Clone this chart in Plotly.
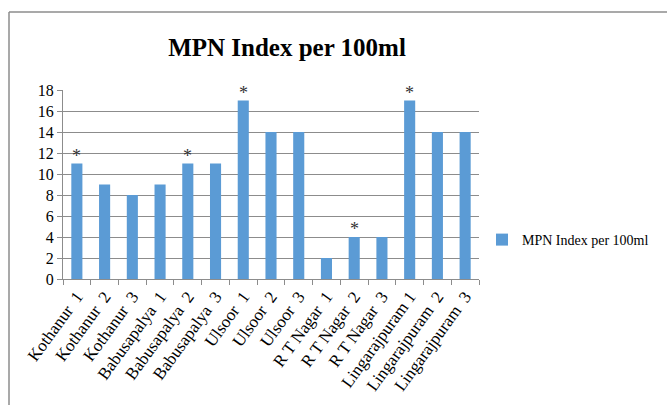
import plotly.graph_objects as go

NB = "\u00a0"

# Sampling sites and their MPN index values
sites = [
    f"Kothanur{NB}{NB}1", f"Kothanur{NB}{NB}2", f"Kothanur{NB}{NB}3",
    f"Babusapalya{NB}{NB}1", f"Babusapalya{NB}{NB}2", f"Babusapalya{NB}{NB}3",
    f"Ulsoor{NB}{NB}1", f"Ulsoor{NB}{NB}2", f"Ulsoor{NB}{NB}3",
    f"R T Nagar{NB}{NB}1", f"R T Nagar{NB}{NB}2", f"R T Nagar{NB}{NB}3",
    "Lingarajpuram 1", f"Lingarajpuram{NB}{NB}2", f"Lingarajpuram{NB}{NB}3",
]
mpn_values = [11, 9, 8, 9, 11, 11, 17, 14, 14, 2, 4, 4, 17, 14, 14]
# Sites flagged with an asterisk
flagged = [True, False, False, False, True, False, True, False, False,
           False, True, False, True, False, False]
series_name = "MPN Index per 100ml"
y_ticks = [0, 2, 4, 6, 8, 10, 12, 14, 16, 18]

W, H = 667, 405
ml, mr, mt, mb = 63, 188, 90, 126
pw, ph = W - ml - mr, H - mt - mb

serif = "Liberation Serif, Times New Roman, serif"

fig = go.Figure()
fig.add_trace(go.Bar(
    x=sites, y=mpn_values, name=series_name,
    marker=dict(color="#5B9BD5", line=dict(width=0)),
))

for s, v, f in zip(sites, mpn_values, flagged):
    if f:
        fig.add_annotation(x=s, y=v, text="*", showarrow=False,
                           yanchor="bottom", yshift=-4,
                           font=dict(family=serif, size=18, color="#333333"))

# Outer chart frame (top and left edges visible)
px = lambda p: (p - ml) / pw
py = lambda p: (H - mb - p) / ph
fig.add_shape(type="line", xref="paper", yref="paper",
              x0=px(9), y0=py(12), x1=px(700), y1=py(12),
              line=dict(color="#8c8c8c", width=1.5))
fig.add_shape(type="line", xref="paper", yref="paper",
              x0=px(9), y0=py(12), x1=px(9), y1=py(440),
              line=dict(color="#8c8c8c", width=1.5))

fig.update_layout(
    width=W, height=H,
    margin=dict(l=ml, r=mr, t=mt, b=mb, autoexpand=False),
    paper_bgcolor="white", plot_bgcolor="white",
    bargap=0.6,
    title=dict(text="<b>MPN Index per 100ml</b>",
               xref="container", x=287 / W, xanchor="center",
               yref="container", y=1 - 47 / H, yanchor="middle",
               font=dict(family=serif, size=25, color="black")),
    showlegend=True,
    legend=dict(x=px(482), y=py(240), xanchor="left", yanchor="middle",
                font=dict(family=serif, size=14, color="black"),
                itemwidth=30, bgcolor="rgba(0,0,0,0)"),
    xaxis=dict(
        tickangle=-54, tickfont=dict(family=serif, size=17, color="black"),
        showline=True, linecolor="#8c8c8c", linewidth=1,
        ticks="outside", ticklen=5, tickcolor="#8c8c8c",
        tickson="boundaries", showgrid=False,
    ),
    yaxis=dict(
        range=[0, 18], tickvals=y_ticks,
        tickfont=dict(family=serif, size=16, color="black"),
        showgrid=True, gridcolor="#8c8c8c", gridwidth=1,
        showline=True, linecolor="#8c8c8c", linewidth=1,
        ticks="outside", ticklen=5, tickcolor="#8c8c8c",
        zeroline=False,
    ),
)

fig.write_html("out.html")
